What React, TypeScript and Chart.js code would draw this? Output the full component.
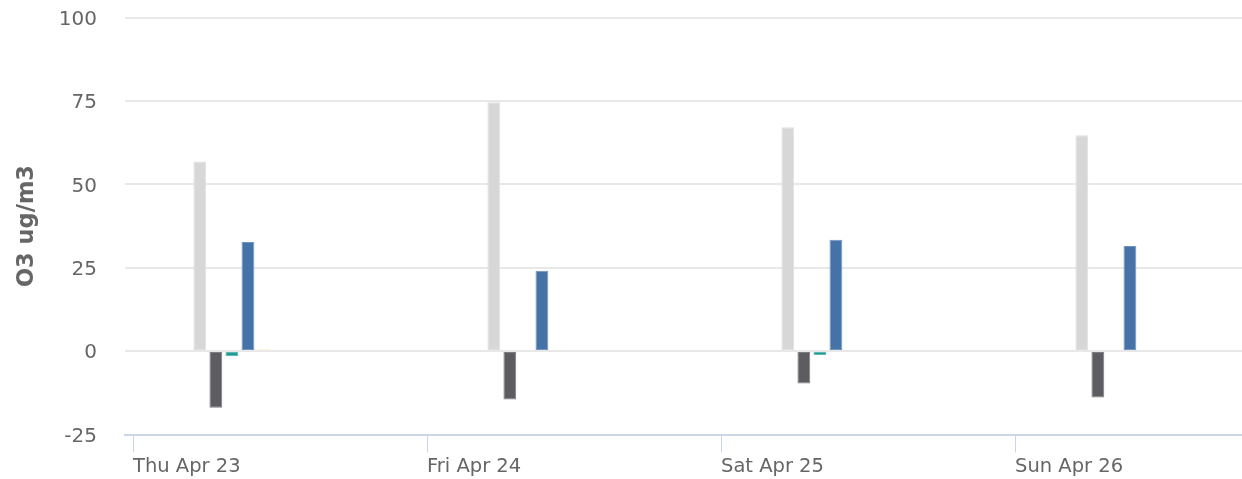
import React, { useEffect, useRef } from "react";
import { Chart, registerables } from "chart.js";

Chart.register(...registerables);

const dayLabels = ["Thu Apr 23", "Fri Apr 24", "Sat Apr 25", "Sun Apr 26"];
const yTicks = [-25, 0, 25, 50, 75, 100];

const seriesA = [56.8, 74.6, 67.1, 64.7];
const seriesB = [-17.0, -14.5, -9.7, -13.9];
const seriesC = [-1.5, -0.3, -1.2, 0];
const seriesD = [32.7, 24.1, 33.4, 31.5];
const seriesE = [0.6, 0.5, 0, 0];
const seriesF = [0, 0, 0.4, 0];
const seriesG = [0.3, 0, 0, 0];
const seriesH = [0, 0, 0, 0];
const seriesI = [0.3, 0, 0, 0];
const seriesJ = [0, 0, 0, 0];
const seriesK = [0, 0, 0, 0];

const allSeries = [seriesA, seriesB, seriesC, seriesD, seriesE, seriesF, seriesG, seriesH, seriesI, seriesJ, seriesK];
const seriesColors = ["#d7d7d7", "#5c5c61", "#1f9c93", "#4572a7", "#fff3c8", "#d8f2f4", "#fbfbfb", "#f4f4f4", "#fbfbfb", "#f4f4f4", "#fbfbfb"];
const seriesBorders = ["#e0e0e0", "#7d7d82", "#5cb8b1", "#6f94c0", "#fff7dc", "#e8f7f8", "#fdfdfd", "#f8f8f8", "#fdfdfd", "#f8f8f8", "#fdfdfd"];

const FONT = "'DejaVu Sans', Verdana, sans-serif";

export default function App() {
  const ref = useRef<HTMLCanvasElement | null>(null);

  useEffect(() => {
    if (!ref.current) return;
    const xMin = -8 / 294;
    const xMax = xMin + 1117 / 294;
    const chart = new Chart(ref.current, {
      type: "bar",
      data: {
        datasets: allSeries.map((vals, si) => ({
          label: "s" + si,
          data: vals.map((v, i) => ({ x: i + 0.5, y: v })),
          backgroundColor: seriesColors[si],
          borderColor: seriesBorders[si],
          borderWidth: 1,
          borderSkipped: false,
          categoryPercentage: 0.6,
          barPercentage: 0.8,
        })),
      },
      options: {
        animation: false,
        responsive: false,
        devicePixelRatio: 1,
        layout: { padding: { top: 17.5, left: 0, right: 0, bottom: 0 } },
        plugins: { legend: { display: false }, tooltip: { enabled: false } },
        scales: {
          x: {
            type: "linear",
            min: xMin,
            max: xMax,
            offset: false,
            afterFit: (s: any) => {
              s.height = 44.5;
            },
            afterBuildTicks: (s: any) => {
              s.ticks = dayLabels.map((_, i) => ({ value: i }));
            },
            grid: {
              offset: false,
              drawOnChartArea: false,
              drawTicks: true,
              tickLength: 18,
              color: "#ccd6eb",
              lineWidth: 1,
            },
            border: { display: true, color: "#ccd6eb", width: 2 },
            ticks: {
              align: "start",
              padding: 3,
              maxRotation: 0,
              autoSkip: false,
              includeBounds: false,
              color: "#666666",
              font: { family: FONT, size: 19.5 },
              callback: (v: any) => dayLabels[Math.round(v)] ?? "",
            },
          },
          y: {
            min: -25,
            max: 100,
            afterFit: (s: any) => {
              s.width = 125;
            },
            afterBuildTicks: (s: any) => {
              s.ticks = yTicks.map((v) => ({ value: v }));
            },
            grid: { color: "#e8e8e8", lineWidth: 2, drawTicks: true, tickLength: 28, tickColor: "rgba(0,0,0,0)" },
            border: { display: false },
            ticks: {
              padding: 0,
              labelOffset: 2,
              color: "#666666",
              font: { family: FONT, size: 20 },
              callback: (v: any) => String(v),
            },
            title: {
              display: true,
              text: "O3 ug/m3",
              color: "#666666",
              font: { family: FONT, size: 22.5, weight: "bold" },
              padding: { top: 14, bottom: 0 },
            },
          },
        },
      },
    });
    return () => chart.destroy();
  }, []);

  return (
    <div style={{ position: "fixed", left: 0, top: 0, width: 1242, height: 479, background: "#ffffff" }}>
      <canvas ref={ref} width={1242} height={479} style={{ width: 1242, height: 479, display: "block" }} />
    </div>
  );
}
